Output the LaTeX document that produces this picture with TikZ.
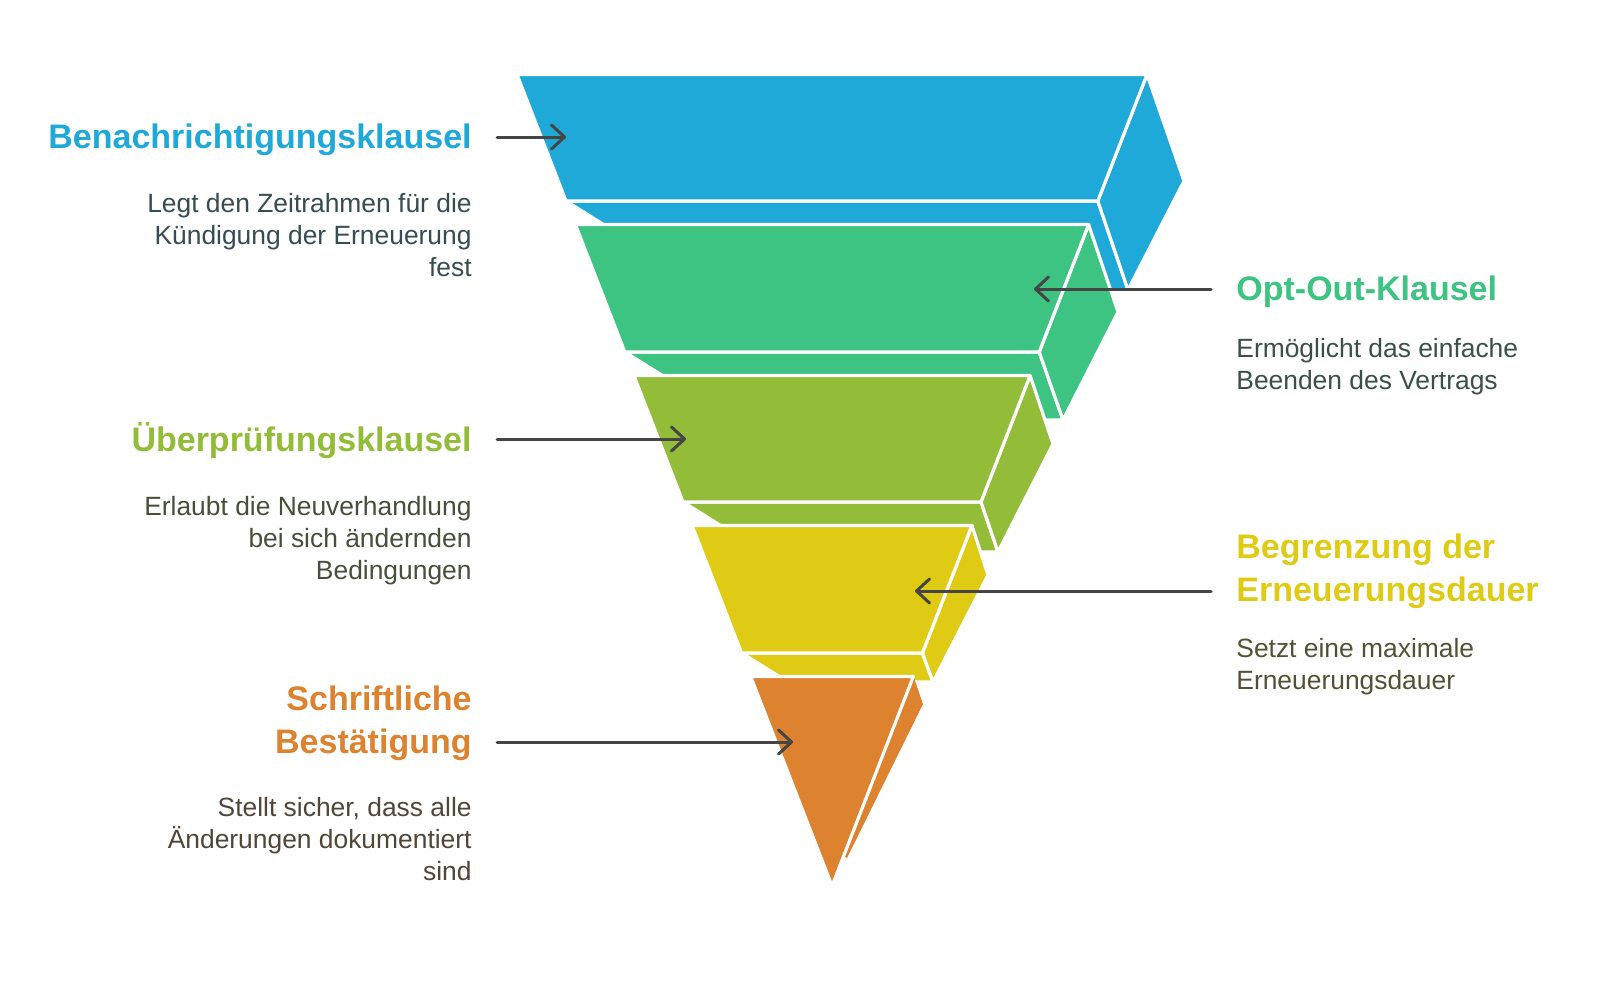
\documentclass[tikz,border=0pt]{standalone}
\usepackage{fontspec}
\setmainfont{Liberation Sans}
\usetikzlibrary{arrows.meta}

\definecolor{cblue}{HTML}{1FA9D9}
\definecolor{cgreen}{HTML}{3DC482}
\definecolor{colive}{HTML}{93BD38}
\definecolor{cyellow}{HTML}{DFCB14}
\definecolor{corange}{HTML}{DD822E}
\definecolor{cline}{HTML}{454545}
\definecolor{cdark}{HTML}{3A3A3A}
\colorlet{tblue}{cblue!15!cdark}
\colorlet{tgreen}{cgreen!15!cdark}
\colorlet{tolive}{colive!15!cdark}
\colorlet{tyellow}{cyellow!15!cdark}
\colorlet{torange}{corange!15!cdark}

\begin{document}
\begin{tikzpicture}[x=0.5pt, y=-0.5pt,
    face/.style={fill=#1, draw=white, line width=1.6pt, line join=round},
    head/.style={font=\fontsize{17}{21.5}\selectfont\bfseries, inner sep=0pt},
    desc/.style={font=\fontsize{13.2}{16}\selectfont, inner sep=0pt},
    arr/.style={-{Straight Barb[length=6.5pt,width=12pt,round]}, line width=1.5pt, draw=cline, line cap=round}
  ]
  \useasboundingbox (0,0) rectangle (1600,980);

  % funnel layers, top to bottom (underside, side, front)
  \path[face=cblue] (566,201) -- (1097.8,201) -- (1128,290) -- (708,290) -- cycle;
  \path[face=cblue] (1147,74.5) -- (1184,181) -- (1128,290) -- (1097.8,201) -- cycle;
  \path[face=cblue] (517,74.5) -- (1147,74.5) -- (1097.8,201) -- (566,201) -- cycle;

  \path[face=cgreen] (624.8,352) -- (1039.2,352) -- (1063,420) -- (733.6,420) -- cycle;
  \path[face=cgreen] (1088.6,224.5) -- (1118,312) -- (1063,420) -- (1039.2,352) -- cycle;
  \path[face=cgreen] (575.4,224.5) -- (1088.6,224.5) -- (1039.2,352) -- (624.8,352) -- cycle;

  \path[face=colive] (683,502) -- (981,502) -- (998,552) -- (763,552) -- cycle;
  \path[face=colive] (1030.1,375.5) -- (1053,444) -- (998,552) -- (981,502) -- cycle;
  \path[face=colive] (633.9,375.5) -- (1030.1,375.5) -- (981,502) -- (683,502) -- cycle;

  \path[face=cyellow] (741.6,653) -- (922.4,653) -- (933,682) -- (788,682) -- cycle;
  \path[face=cyellow] (971.9,525.5) -- (988,575) -- (933,682) -- (922.4,653) -- cycle;
  \path[face=cyellow] (692.1,525.5) -- (971.9,525.5) -- (922.4,653) -- (741.6,653) -- cycle;

  % last layer: thin side sliver without outline
  \fill[corange] (914,678) -- (923,704) -- (847,858) -- (844,856) -- cycle;
  \path[face=corange] (750.7,676.5) -- (913.3,676.5) -- (832,886) -- cycle;

  % left labels (base = last line)
  \node[head, text=cblue, anchor=base east] (t1) at (472,148) {Benachrichtigungsklausel};
  \node[desc, text=tblue, align=right, anchor=base east] (d1) at (472,276)
    {Legt den Zeitrahmen für die\\Kündigung der Erneuerung\\fest};
  \node[head, text=colive, anchor=base east] (t3) at (472,451) {Überprüfungsklausel};
  \node[desc, text=tolive, align=right, anchor=base east] (d3) at (472,579)
    {Erlaubt die Neuverhandlung\\bei sich ändernden\\Bedingungen};
  \node[head, text=corange, align=right, anchor=base east] (t5) at (472,753) {Schriftliche\\Bestätigung};
  \node[desc, text=torange, align=right, anchor=base east] (d5) at (472,880)
    {Stellt sicher, dass alle\\Änderungen dokumentiert\\sind};

  % right labels
  \node[head, text=cgreen, anchor=base west] (t2) at (1236,300) {Opt-Out-Klausel};
  \node[desc, text=tgreen, align=left, anchor=base west] (d2) at (1236,389)
    {Ermöglicht das einfache\\Beenden des Vertrags};
  \node[head, text=cyellow, align=left, anchor=base west] (t4) at (1236,601) {Begrenzung der\\Erneuerungsdauer};
  \node[desc, text=tyellow, align=left, anchor=base west] (d4) at (1236,689)
    {Setzt eine maximale\\Erneuerungsdauer};

  % pointers
  \coordinate (s1) at (497,137);  \coordinate (e1) at (566,137);
  \coordinate (s2) at (1211,289); \coordinate (e2) at (1034,289);
  \coordinate (s3) at (497,439);  \coordinate (e3) at (686,439);
  \coordinate (s4) at (1211,591); \coordinate (e4) at (915,591);
  \coordinate (s5) at (497,742);  \coordinate (e5) at (793,742);
  \foreach \i in {1,...,5}
    \draw[arr] (s\i) -- (e\i);
\end{tikzpicture}
\end{document}
